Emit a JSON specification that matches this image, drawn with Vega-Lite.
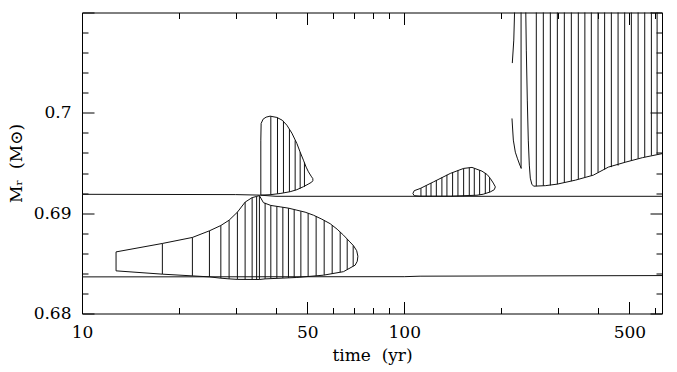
{
  "$schema": "https://vega.github.io/schema/vega-lite/v6.json",
  "width": 580,
  "height": 301,
  "autosize": {"type": "none"},
  "padding": {"left": 82, "top": 12.5, "right": 15, "bottom": 58.5},
  "background": "white",
  "config": {"view": {"stroke": "#000", "strokeWidth": 1}, "font": "DejaVu Serif"},
  "datasets": {
    "lines": [
      {"seg": "lower", "i": 0, "t": 10, "m": 0.68365},
      {"seg": "lower", "i": 1, "t": 100, "m": 0.68367},
      {"seg": "lower", "i": 2, "t": 112, "m": 0.68372},
      {"seg": "lower", "i": 3, "t": 631, "m": 0.68378},
      {"seg": "upper", "i": 0, "t": 10, "m": 0.69188},
      {"seg": "upper", "i": 1, "t": 30, "m": 0.69185},
      {"seg": "upper", "i": 2, "t": 35.5, "m": 0.6918},
      {"seg": "upper", "i": 3, "t": 40, "m": 0.69168},
      {"seg": "upper", "i": 4, "t": 631, "m": 0.69168},
      {"seg": "A", "i": 0, "t": 12.755, "m": 0.68425},
      {"seg": "A", "i": 1, "t": 12.755, "m": 0.68614},
      {"seg": "A", "i": 2, "t": 17.76, "m": 0.68698},
      {"seg": "A", "i": 3, "t": 22.01, "m": 0.68758},
      {"seg": "A", "i": 4, "t": 24.86, "m": 0.68824},
      {"seg": "A", "i": 5, "t": 26.97, "m": 0.68877},
      {"seg": "A", "i": 6, "t": 28.61, "m": 0.6893},
      {"seg": "A", "i": 7, "t": 30.36, "m": 0.6901},
      {"seg": "A", "i": 8, "t": 32.08, "m": 0.6911},
      {"seg": "A", "i": 9, "t": 33.73, "m": 0.69155},
      {"seg": "A", "i": 10, "t": 34.83, "m": 0.69167},
      {"seg": "A", "i": 11, "t": 35.53, "m": 0.69175},
      {"seg": "A", "i": 12, "t": 36.56, "m": 0.69105},
      {"seg": "A", "i": 13, "t": 38.55, "m": 0.69077},
      {"seg": "A", "i": 14, "t": 41.19, "m": 0.69063},
      {"seg": "A", "i": 15, "t": 43.72, "m": 0.6905},
      {"seg": "A", "i": 16, "t": 46.43, "m": 0.6903},
      {"seg": "A", "i": 17, "t": 49.26, "m": 0.6901},
      {"seg": "A", "i": 18, "t": 52.27, "m": 0.6898},
      {"seg": "A", "i": 19, "t": 55.52, "m": 0.6894},
      {"seg": "A", "i": 20, "t": 58.91, "m": 0.68895},
      {"seg": "A", "i": 21, "t": 61.94, "m": 0.6884},
      {"seg": "A", "i": 22, "t": 64.79, "m": 0.68781},
      {"seg": "A", "i": 23, "t": 67.48, "m": 0.68721},
      {"seg": "A", "i": 24, "t": 69.59, "m": 0.68676},
      {"seg": "A", "i": 25, "t": 71.2, "m": 0.68626},
      {"seg": "A", "i": 26, "t": 71.81, "m": 0.68571},
      {"seg": "A", "i": 27, "t": 71.5, "m": 0.68521},
      {"seg": "A", "i": 28, "t": 70.44, "m": 0.68482},
      {"seg": "A", "i": 29, "t": 64.79, "m": 0.68417},
      {"seg": "A", "i": 30, "t": 56.16, "m": 0.68382},
      {"seg": "A", "i": 31, "t": 46.43, "m": 0.68359},
      {"seg": "A", "i": 32, "t": 37.01, "m": 0.68345},
      {"seg": "A", "i": 33, "t": 35.53, "m": 0.68339},
      {"seg": "A", "i": 34, "t": 30.36, "m": 0.6834},
      {"seg": "A", "i": 35, "t": 28.61, "m": 0.68345},
      {"seg": "A", "i": 36, "t": 26.97, "m": 0.68352},
      {"seg": "A", "i": 37, "t": 24.86, "m": 0.68365},
      {"seg": "A", "i": 38, "t": 22.01, "m": 0.68375},
      {"seg": "A", "i": 39, "t": 17.76, "m": 0.68392},
      {"seg": "A", "i": 40, "t": 12.755, "m": 0.68425},
      {"seg": "B", "i": 0, "t": 35.89, "m": 0.6918},
      {"seg": "B", "i": 1, "t": 35.89, "m": 0.69728},
      {"seg": "B", "i": 2, "t": 35.97, "m": 0.69894},
      {"seg": "B", "i": 3, "t": 36.48, "m": 0.69937},
      {"seg": "B", "i": 4, "t": 37.27, "m": 0.69957},
      {"seg": "B", "i": 5, "t": 38.36, "m": 0.69967},
      {"seg": "B", "i": 6, "t": 40.25, "m": 0.69954},
      {"seg": "B", "i": 7, "t": 41.8, "m": 0.69927},
      {"seg": "B", "i": 8, "t": 43.23, "m": 0.69877},
      {"seg": "B", "i": 9, "t": 44.8, "m": 0.69798},
      {"seg": "B", "i": 10, "t": 46.43, "m": 0.69695},
      {"seg": "B", "i": 11, "t": 47.54, "m": 0.69608},
      {"seg": "B", "i": 12, "t": 48.67, "m": 0.69528},
      {"seg": "B", "i": 13, "t": 49.62, "m": 0.69459},
      {"seg": "B", "i": 14, "t": 50.44, "m": 0.69412},
      {"seg": "B", "i": 15, "t": 51.42, "m": 0.69369},
      {"seg": "B", "i": 16, "t": 52.05, "m": 0.69344},
      {"seg": "B", "i": 17, "t": 52.05, "m": 0.69324},
      {"seg": "B", "i": 18, "t": 51.61, "m": 0.69309},
      {"seg": "B", "i": 19, "t": 50.33, "m": 0.69289},
      {"seg": "B", "i": 20, "t": 48.67, "m": 0.69264},
      {"seg": "B", "i": 21, "t": 46.43, "m": 0.69234},
      {"seg": "B", "i": 22, "t": 44.26, "m": 0.69214},
      {"seg": "B", "i": 23, "t": 41.19, "m": 0.69196},
      {"seg": "B", "i": 24, "t": 38.36, "m": 0.69184},
      {"seg": "B", "i": 25, "t": 35.89, "m": 0.6918},
      {"seg": "C", "i": 0, "t": 106.4, "m": 0.69196},
      {"seg": "C", "i": 1, "t": 107.4, "m": 0.69224},
      {"seg": "C", "i": 2, "t": 112.1, "m": 0.69246},
      {"seg": "C", "i": 3, "t": 123.3, "m": 0.69312},
      {"seg": "C", "i": 4, "t": 139.0, "m": 0.69396},
      {"seg": "C", "i": 5, "t": 152.9, "m": 0.69446},
      {"seg": "C", "i": 6, "t": 162.3, "m": 0.69456},
      {"seg": "C", "i": 7, "t": 174.3, "m": 0.69419},
      {"seg": "C", "i": 8, "t": 181.0, "m": 0.69384},
      {"seg": "C", "i": 9, "t": 185.0, "m": 0.69346},
      {"seg": "C", "i": 10, "t": 189.0, "m": 0.693},
      {"seg": "C", "i": 11, "t": 191.8, "m": 0.69262},
      {"seg": "C", "i": 12, "t": 190.3, "m": 0.69234},
      {"seg": "C", "i": 13, "t": 185.0, "m": 0.69212},
      {"seg": "C", "i": 14, "t": 175.9, "m": 0.69189},
      {"seg": "C", "i": 15, "t": 168.2, "m": 0.69179},
      {"seg": "C", "i": 16, "t": 139.0, "m": 0.69169},
      {"seg": "C", "i": 17, "t": 112.1, "m": 0.69169},
      {"seg": "C", "i": 18, "t": 107.4, "m": 0.69174},
      {"seg": "C", "i": 19, "t": 106.4, "m": 0.69196},
      {"seg": "D", "i": 0, "t": 238.4, "m": 0.71},
      {"seg": "D", "i": 1, "t": 239.3, "m": 0.70625},
      {"seg": "D", "i": 2, "t": 241.0, "m": 0.70127},
      {"seg": "D", "i": 3, "t": 242.7, "m": 0.69728},
      {"seg": "D", "i": 4, "t": 244.5, "m": 0.69479},
      {"seg": "D", "i": 5, "t": 246.2, "m": 0.69349},
      {"seg": "D", "i": 6, "t": 248.9, "m": 0.69289},
      {"seg": "D", "i": 7, "t": 252.1, "m": 0.69269},
      {"seg": "D", "i": 8, "t": 274.1, "m": 0.69274},
      {"seg": "D", "i": 9, "t": 298.0, "m": 0.69289},
      {"seg": "D", "i": 10, "t": 339.8, "m": 0.69329},
      {"seg": "D", "i": 11, "t": 386.4, "m": 0.69379},
      {"seg": "D", "i": 12, "t": 430.1, "m": 0.69459},
      {"seg": "D", "i": 13, "t": 485.8, "m": 0.69508},
      {"seg": "D", "i": 14, "t": 548.4, "m": 0.69553},
      {"seg": "D", "i": 15, "t": 631, "m": 0.69593},
      {"seg": "Da", "i": 0, "t": 220.0, "m": 0.71},
      {"seg": "Da", "i": 1, "t": 218.8, "m": 0.70725},
      {"seg": "Da", "i": 2, "t": 216.5, "m": 0.70496},
      {"seg": "Db", "i": 0, "t": 216.0, "m": 0.69944},
      {"seg": "Db", "i": 1, "t": 218.1, "m": 0.69728},
      {"seg": "Db", "i": 2, "t": 221.2, "m": 0.69608},
      {"seg": "Db", "i": 3, "t": 224.4, "m": 0.69548},
      {"seg": "Db", "i": 4, "t": 228.5, "m": 0.69479},
      {"seg": "Db", "i": 5, "t": 230.9, "m": 0.69446}
    ],
    "hatch": [
      {"zone": "A", "t": 17.76, "lo": 0.68392, "hi": 0.68698},
      {"zone": "A", "t": 22.01, "lo": 0.68375, "hi": 0.68758},
      {"zone": "A", "t": 24.86, "lo": 0.68365, "hi": 0.68824},
      {"zone": "A", "t": 26.97, "lo": 0.68352, "hi": 0.68877},
      {"zone": "A", "t": 28.61, "lo": 0.68345, "hi": 0.6893},
      {"zone": "A", "t": 30.36, "lo": 0.6834, "hi": 0.6901},
      {"zone": "A", "t": 32.08, "lo": 0.6834, "hi": 0.6911},
      {"zone": "A", "t": 33.73, "lo": 0.6834, "hi": 0.69155},
      {"zone": "A", "t": 34.83, "lo": 0.6834, "hi": 0.69167},
      {"zone": "A", "t": 35.53, "lo": 0.68339, "hi": 0.69175},
      {"zone": "A", "t": 37.01, "lo": 0.68345, "hi": 0.69102},
      {"zone": "A", "t": 38.55, "lo": 0.6835, "hi": 0.69077},
      {"zone": "A", "t": 40.25, "lo": 0.68352, "hi": 0.69068},
      {"zone": "A", "t": 42.01, "lo": 0.68354, "hi": 0.6906},
      {"zone": "A", "t": 43.72, "lo": 0.68356, "hi": 0.6905},
      {"zone": "A", "t": 45.55, "lo": 0.68358, "hi": 0.69033},
      {"zone": "A", "t": 47.78, "lo": 0.68362, "hi": 0.69018},
      {"zone": "A", "t": 50.33, "lo": 0.68368, "hi": 0.68998},
      {"zone": "A", "t": 53.29, "lo": 0.68375, "hi": 0.6897},
      {"zone": "A", "t": 56.44, "lo": 0.68382, "hi": 0.68928},
      {"zone": "A", "t": 59.76, "lo": 0.68394, "hi": 0.6888},
      {"zone": "A", "t": 63.28, "lo": 0.68412, "hi": 0.68812},
      {"zone": "A", "t": 66.53, "lo": 0.68438, "hi": 0.68742},
      {"zone": "A", "t": 69.44, "lo": 0.68471, "hi": 0.68678},
      {"zone": "B", "t": 38.55, "lo": 0.69184, "hi": 0.69966},
      {"zone": "B", "t": 40.43, "lo": 0.69193, "hi": 0.69953},
      {"zone": "B", "t": 42.19, "lo": 0.69203, "hi": 0.6992},
      {"zone": "B", "t": 44.03, "lo": 0.69212, "hi": 0.69838},
      {"zone": "B", "t": 45.87, "lo": 0.69228, "hi": 0.69725},
      {"zone": "B", "t": 47.54, "lo": 0.69245, "hi": 0.69608},
      {"zone": "B", "t": 49.02, "lo": 0.69262, "hi": 0.69505},
      {"zone": "C", "t": 112.7, "lo": 0.69169, "hi": 0.69249},
      {"zone": "C", "t": 117.0, "lo": 0.69169, "hi": 0.69276},
      {"zone": "C", "t": 121.1, "lo": 0.69169, "hi": 0.693},
      {"zone": "C", "t": 125.8, "lo": 0.69169, "hi": 0.69329},
      {"zone": "C", "t": 130.9, "lo": 0.69169, "hi": 0.69357},
      {"zone": "C", "t": 135.7, "lo": 0.69169, "hi": 0.69382},
      {"zone": "C", "t": 141.3, "lo": 0.69169, "hi": 0.69406},
      {"zone": "C", "t": 146.8, "lo": 0.69169, "hi": 0.69426},
      {"zone": "C", "t": 152.9, "lo": 0.69169, "hi": 0.69446},
      {"zone": "C", "t": 159.2, "lo": 0.69172, "hi": 0.69454},
      {"zone": "C", "t": 165.0, "lo": 0.69177, "hi": 0.69446},
      {"zone": "C", "t": 171.4, "lo": 0.69182, "hi": 0.69429},
      {"zone": "C", "t": 178.5, "lo": 0.69191, "hi": 0.69401},
      {"zone": "C", "t": 184.1, "lo": 0.69209, "hi": 0.69354},
      {"zone": "D", "t": 230.5, "lo": 0.69446, "hi": 0.71},
      {"zone": "D", "t": 257.0, "lo": 0.69269, "hi": 0.71},
      {"zone": "D", "t": 270.2, "lo": 0.69273, "hi": 0.71},
      {"zone": "D", "t": 284.1, "lo": 0.69277, "hi": 0.71},
      {"zone": "D", "t": 298.7, "lo": 0.69289, "hi": 0.71},
      {"zone": "D", "t": 314.0, "lo": 0.69304, "hi": 0.71},
      {"zone": "D", "t": 330.1, "lo": 0.69319, "hi": 0.71},
      {"zone": "D", "t": 347.0, "lo": 0.69339, "hi": 0.71},
      {"zone": "D", "t": 363.6, "lo": 0.69359, "hi": 0.71},
      {"zone": "D", "t": 380.8, "lo": 0.69374, "hi": 0.71},
      {"zone": "D", "t": 399.5, "lo": 0.69404, "hi": 0.71},
      {"zone": "D", "t": 418.8, "lo": 0.69434, "hi": 0.71},
      {"zone": "D", "t": 439.4, "lo": 0.69459, "hi": 0.71},
      {"zone": "D", "t": 461.0, "lo": 0.69474, "hi": 0.71},
      {"zone": "D", "t": 483.3, "lo": 0.69504, "hi": 0.71},
      {"zone": "D", "t": 506.9, "lo": 0.69523, "hi": 0.71},
      {"zone": "D", "t": 532.0, "lo": 0.69543, "hi": 0.71},
      {"zone": "D", "t": 557.7, "lo": 0.69558, "hi": 0.71},
      {"zone": "D", "t": 584.9, "lo": 0.69575, "hi": 0.71},
      {"zone": "D", "t": 609.3, "lo": 0.69586, "hi": 0.71}
    ]
  },
  "layer": [
    {
      "data": {"name": "lines"},
      "mark": {"type": "line", "stroke": "#111", "strokeWidth": 1},
      "encoding": {
        "x": {
          "field": "t", "type": "quantitative",
          "scale": {"type": "log", "domain": [10, 631], "nice": false, "zero": false},
          "axis": {
            "orient": "bottom",
            "values": [10, 20, 30, 40, 50, 60, 70, 80, 90, 100, 200, 300, 400, 500, 600],
            "labelExpr": "indexof([10, 50, 100, 500], datum.value) >= 0 ? datum.value + '' : ''",
            "tickSize": {"condition": {"test": "indexof([10, 50, 100, 500], datum.value) >= 0", "value": -12}, "value": -6},
            "tickColor": "#000", "tickWidth": 1,
            "labelPadding": 35.5, "labelBaseline": "alphabetic", "labelFlush": false, "labelOverlap": false,
            "labelFont": "DejaVu Serif", "labelFontSize": 17, "labelColor": "#000",
            "domain": false, "grid": false,
            "title": "time \u00a0(yr)", "titleFont": "DejaVu Serif", "titleFontSize": 17, "titleFontWeight": "normal", "titleColor": "#000",
            "titleX": 290, "titleY": 47, "titleAlign": "center", "titleBaseline": "alphabetic"
          }
        },
        "y": {
          "field": "m", "type": "quantitative",
          "scale": {"domain": [0.68, 0.71], "nice": false, "zero": false},
          "axis": {
            "orient": "left",
            "values": [0.68, 0.682, 0.684, 0.686, 0.688, 0.69, 0.692, 0.694, 0.696, 0.698, 0.7, 0.702, 0.704, 0.706, 0.708, 0.71],
            "labelExpr": "(datum.value == 0.68 || datum.value == 0.69 || datum.value == 0.7) ? datum.value + '' : ''",
            "tickSize": {"condition": {"test": "datum.value == 0.68 || datum.value == 0.69 || datum.value == 0.7 || datum.value == 0.71", "value": -12}, "value": -6},
            "tickColor": "#000", "tickWidth": 1,
            "labelPadding": 23, "labelBaseline": "middle", "labelFlush": false, "labelOverlap": false,
            "labelFont": "DejaVu Serif", "labelFontSize": 17, "labelColor": "#000",
            "domain": false, "grid": false,
            "title": "Mᵣ \u00a0(M⊙)", "titleFont": "DejaVu Serif", "titleFontSize": 17, "titleFontWeight": "normal", "titleColor": "#000",
            "titleAngle": -90, "titleX": -65.5, "titleY": 150.5, "titleAlign": "center", "titleBaseline": "middle"
          }
        },
        "detail": {"field": "seg", "type": "nominal"},
        "order": {"field": "i", "type": "quantitative"}
      }
    },
    {
      "data": {"name": "hatch"},
      "mark": {"type": "rule", "stroke": "#111", "strokeWidth": 1},
      "encoding": {
        "x": {
          "field": "t", "type": "quantitative",
          "scale": {"type": "log", "domain": [10, 631], "nice": false, "zero": false},
          "axis": {
            "orient": "top",
            "values": [10, 20, 30, 40, 50, 60, 70, 80, 90, 100, 200, 300, 400, 500, 600],
            "labels": false,
            "tickSize": {"condition": {"test": "indexof([10, 50, 100, 500], datum.value) >= 0", "value": -12}, "value": -6},
            "tickColor": "#000", "tickWidth": 1,
            "domain": false, "grid": false, "title": null
          }
        },
        "y": {
          "field": "lo", "type": "quantitative",
          "scale": {"domain": [0.68, 0.71], "nice": false, "zero": false},
          "axis": {
            "orient": "right",
            "values": [0.68, 0.682, 0.684, 0.686, 0.688, 0.69, 0.692, 0.694, 0.696, 0.698, 0.7, 0.702, 0.704, 0.706, 0.708, 0.71],
            "labels": false,
            "tickSize": {"condition": {"test": "datum.value == 0.68 || datum.value == 0.69 || datum.value == 0.7 || datum.value == 0.71", "value": -12}, "value": -6},
            "tickColor": "#000", "tickWidth": 1,
            "domain": false, "grid": false, "title": null
          }
        },
        "y2": {"field": "hi"}
      }
    }
  ],
  "resolve": {"axis": {"x": "independent", "y": "independent"}}
}
